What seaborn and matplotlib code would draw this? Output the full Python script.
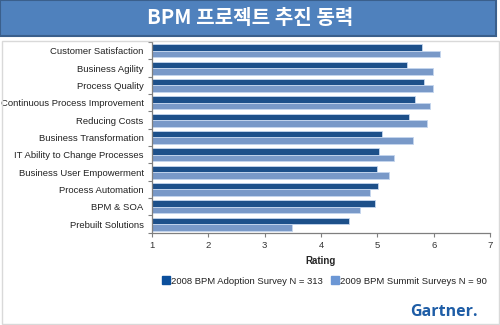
import matplotlib
matplotlib.use("Agg")
import matplotlib.pyplot as plt
from matplotlib.patches import Rectangle
from matplotlib.lines import Line2D
import seaborn as sns
import pandas as pd

categories = [
    "Customer Satisfaction",
    "Business Agility",
    "Process Quality",
    "Continuous Process Improvement",
    "Reducing Costs",
    "Business Transformation",
    "IT Ability to Change Processes",
    "Business User Empowerment",
    "Process Automation",
    "BPM & SOA",
    "Prebuilt Solutions",
]
survey_2008 = [5.79, 5.53, 5.82, 5.67, 5.57, 5.09, 5.03, 4.99, 5.02, 4.95, 4.49]
survey_2009 = [6.12, 5.99, 5.99, 5.94, 5.89, 5.63, 5.30, 5.20, 4.87, 4.70, 3.48]
series_names = ["2008 BPM Adoption Survey N = 313", "2009 BPM Summit Surveys N = 90"]
x_ticks = [1, 2, 3, 4, 5, 6, 7]

dark_blue = "#0B4F9C"
light_blue = "#6C97D5"

df = pd.DataFrame({
    "category": categories * 2,
    "rating": survey_2008 + survey_2009,
    "survey": [series_names[0]] * len(categories) + [series_names[1]] * len(categories),
})

sns.set_theme(style="white")
plt.rcParams["font.family"] = ["Liberation Sans", "Noto Sans CJK KR", "DejaVu Sans"]

fig = plt.figure(figsize=(5.0, 3.25), dpi=100)

# title banner
fig.patches.append(Rectangle((0.0, 325 - 36), 496, 36, transform=None,
                             facecolor="#4F81BD", edgecolor="#3A5F8C", linewidth=1.5))
fig.text(0.5, 1 - 18 / 325, "BPM 프로젝트 추진 동력", ha="center", va="center",
         color="white", fontsize=14.5, fontweight="bold",
         family=["Noto Sans CJK KR", "DejaVu Sans"])

# chart frame
fig.patches.append(Rectangle((1.5, 1.5), 497, 283, transform=None,
                             facecolor="none", edgecolor="#D9D9D9", linewidth=1))

ax = fig.add_axes([152 / 500, (325 - 232.7) / 325, (490 - 152) / 500, (232.7 - 42) / 325])
sns.barplot(data=df, y="category", x="rating", hue="survey", orient="h",
            palette=[dark_blue, light_blue], width=0.75, gap=0,
            edgecolor="#C5D6EE", linewidth=0.6, ax=ax, legend=False)

ax.set_xlim(1, 7)
ax.set_ylim(len(categories) - 0.5, -0.5)
ax.set_xticks(x_ticks)
ax.set_xticklabels([str(t) for t in x_ticks], fontsize=6.8, color="#333333")
ax.set_yticks(range(len(categories)))
ax.set_yticklabels(categories, fontsize=6.8, color="#222222")
ax.set_yticks([i - 0.5 for i in range(len(categories) + 1)], minor=True)
ax.tick_params(axis="y", which="major", length=0, pad=6)
ax.tick_params(axis="y", which="minor", length=3, width=0.8, color="#7F7F7F", left=True)
ax.tick_params(axis="x", which="major", length=3, width=0.8, color="#7F7F7F", bottom=True, pad=3)
ax.set_ylabel("")
ax.set_xlabel("Rating", fontsize=7, fontweight="bold", labelpad=4)
for side in ["top", "right"]:
    ax.spines[side].set_visible(False)
for side in ["left", "bottom"]:
    ax.spines[side].set_color("#7F7F7F")
    ax.spines[side].set_linewidth(0.9)
ax.grid(False)

handles = [Line2D([], [], marker="s", linestyle="none", markersize=5.5,
                  markerfacecolor=c, markeredgecolor=c) for c in (dark_blue, light_blue)]
fig.legend(handles, series_names, loc="center", bbox_to_anchor=(325 / 500, 1 - 281 / 325),
           ncol=2, frameon=False, fontsize=6.8, handletextpad=0.15, columnspacing=1.0,
           handlelength=0.7, labelcolor="#222222")

fig.text(444 / 500, 1 - 312 / 325, "Gartner.", ha="center", va="center",
         color="#1E5DA6", fontsize=11.5, fontweight="bold", family="Open Sans")

fig.savefig("out.png", dpi=100)
